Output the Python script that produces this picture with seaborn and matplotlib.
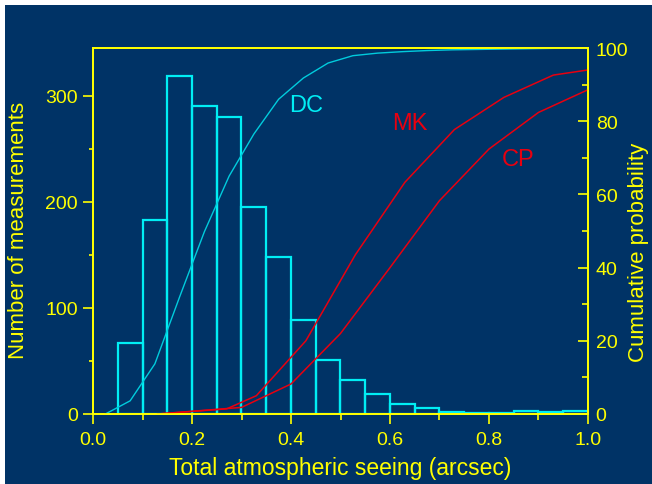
import matplotlib
matplotlib.use("Agg")
import matplotlib.pyplot as plt
import seaborn as sns
from matplotlib.ticker import MultipleLocator
from matplotlib.patches import Rectangle

# Histogram of total seeing (0.05 arcsec bins)
bin_edges = [0.05, 0.10, 0.15, 0.20, 0.25, 0.30, 0.35, 0.40, 0.45, 0.50,
             0.55, 0.60, 0.65, 0.70, 0.75, 0.80, 0.85, 0.90, 0.95, 1.00]
bin_centers = [0.075, 0.125, 0.175, 0.225, 0.275, 0.325, 0.375, 0.425, 0.475,
               0.525, 0.575, 0.625, 0.675, 0.725, 0.775, 0.825, 0.875, 0.925, 0.975]
counts = [67, 183, 319, 290, 280, 195, 148, 89, 51,
          32, 19, 9, 6, 2, 1, 1, 3, 2, 3]

# Cumulative probability curves (%)
dc_x = [0.025, 0.075, 0.125, 0.175, 0.225, 0.275, 0.325, 0.375, 0.425, 0.475,
        0.525, 0.575, 0.625, 0.675, 0.725, 0.775, 0.825, 0.875, 0.925, 0.975, 1.0]
dc_y = [0.0, 3.6, 13.7, 32.0, 49.8, 65.0, 76.5, 86.0, 91.8, 95.9,
        97.9, 98.6, 99.0, 99.3, 99.5, 99.6, 99.7, 99.8, 99.9, 100.0, 100.0]
mk_x = [0.13, 0.27, 0.33, 0.43, 0.53, 0.63, 0.73, 0.83, 0.93, 1.00]
mk_y = [0.0, 1.4, 5.0, 20.0, 43.5, 63.3, 77.7, 86.5, 92.6, 94.0]
cp_x = [0.13, 0.30, 0.40, 0.50, 0.60, 0.70, 0.80, 0.90, 1.00]
cp_y = [0.0, 1.8, 8.2, 22.0, 40.0, 58.3, 72.4, 82.4, 88.6]

x_ticks = [0.0, 0.2, 0.4, 0.6, 0.8, 1.0]
x_ticklabels = ["0.0", "0.2", "0.4", "0.6", "0.8", "1.0"]

NAVY = "#003366"
YELLOW = "#FFFF00"
CYAN = "#00EEF4"
CYAN_LINE = "#00CCDD"
RED = "#E8000F"

sns.set_style("ticks")
plt.rcParams["font.family"] = ["Liberation Sans", "DejaVu Sans"]

fig = plt.figure(figsize=(6.52, 4.85), dpi=100, facecolor="white")
fig.add_artist(Rectangle((5 / 652, 0), 1 - 5 / 652, (485 - 6) / 485,
                         transform=fig.transFigure, facecolor=NAVY,
                         edgecolor="none", zorder=-10))

ax = fig.add_axes([93 / 652, 1 - 415 / 485, 495 / 652, 366 / 485])
ax.set_facecolor(NAVY)
ax2 = ax.twinx()

sns.histplot(x=bin_centers, weights=counts, bins=bin_edges, fill=False,
             element="bars", color=CYAN, linewidth=1.6, ax=ax)

sns.lineplot(x=dc_x, y=dc_y, color=CYAN_LINE, linewidth=1.0, ax=ax2)
sns.lineplot(x=mk_x, y=mk_y, color=RED, linewidth=1.1, ax=ax2)
sns.lineplot(x=cp_x, y=cp_y, color=RED, linewidth=1.1, ax=ax2)

ax2.text(0.43, 84.4, "DC", color=CYAN, fontsize=17, ha="center", va="center")
ax2.text(0.64, 79.5, "MK", color=RED, fontsize=17, ha="center", va="center")
ax2.text(0.859, 69.7, "CP", color=RED, fontsize=17, ha="center", va="center")

ax.set_xlim(0, 1)
ax.set_ylim(0, 345)
ax2.set_ylim(0, 100)

ax.set_xticks(x_ticks)
ax.set_xticklabels(x_ticklabels)
ax.xaxis.set_minor_locator(MultipleLocator(0.1))
ax.yaxis.set_major_locator(MultipleLocator(100))
ax.yaxis.set_minor_locator(MultipleLocator(50))
ax2.yaxis.set_major_locator(MultipleLocator(20))
ax2.yaxis.set_minor_locator(MultipleLocator(10))

# bottom/left ticks point outward, top/right ticks point inward
ax.tick_params(axis="x", which="both", bottom=True, top=False, direction="out",
               colors=YELLOW, labelsize=14, width=1.2, pad=5)
ax.tick_params(axis="x", which="major", length=7)
ax.tick_params(axis="x", which="minor", length=4)
ax.tick_params(axis="y", which="both", left=True, right=False, direction="out",
               colors=YELLOW, labelsize=14, width=1.2, pad=4)
ax.tick_params(axis="y", which="major", length=7)
ax.tick_params(axis="y", which="minor", length=3)

ax2.tick_params(axis="x", which="both", bottom=False, top=True, labeltop=False,
                labelbottom=False, direction="in", colors=YELLOW, width=1.2)
ax2.tick_params(axis="x", which="major", length=6)
ax2.tick_params(axis="x", which="minor", length=4)
ax2.tick_params(axis="y", which="both", right=True, left=False, direction="in",
                colors=YELLOW, labelsize=14, width=1.2, pad=5.5)
ax2.tick_params(axis="y", which="major", length=7)
ax2.tick_params(axis="y", which="minor", length=4.5)

for a in (ax, ax2):
    for sp in a.spines.values():
        sp.set_visible(True)
        sp.set_color(YELLOW)
        sp.set_linewidth(1.3)

ax.set_xlabel("Total atmospheric seeing (arcsec)", color=YELLOW, fontsize=16.5)
ax.xaxis.label.set_va("center")
ax.xaxis.set_label_coords(0.5, (415 - 469) / 366)
ax.set_ylabel("Number of measurements", color=YELLOW, fontsize=16)
ax.yaxis.label.set_va("center")
ax.yaxis.set_label_coords((18 - 93) / 495, 0.505)
ax2.set_ylabel("Cumulative probability", color=YELLOW, fontsize=16, rotation=90)
ax2.yaxis.label.set_va("center")
ax2.yaxis.set_label_coords((639 - 93) / 495, 0.443)

fig.savefig("out.png", dpi=100, facecolor=fig.get_facecolor())
